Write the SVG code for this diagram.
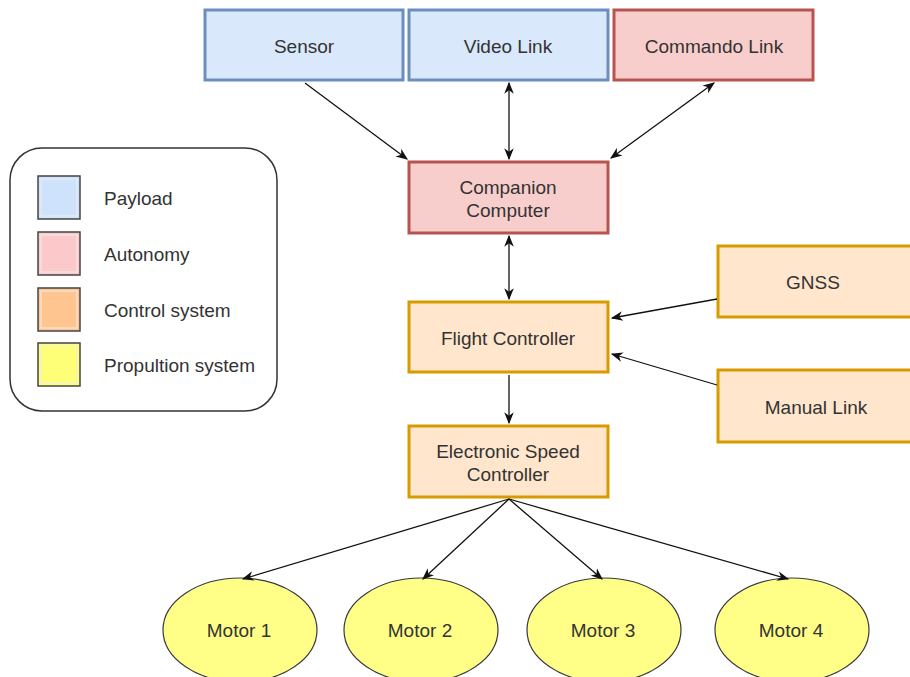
<svg xmlns="http://www.w3.org/2000/svg" width="910" height="677" viewBox="0 0 910 677">
<style>
text{font-family:"Liberation Sans",Arial,sans-serif;font-size:19px;fill:#333;text-anchor:middle;dominant-baseline:central}
.blue{fill:#dae8fc;stroke:#6c8ebf;stroke-width:3}
.red{fill:#f8cecc;stroke:#b85450;stroke-width:3}
.orange{fill:#ffe6cc;stroke:#d79b00;stroke-width:3}
.motor{fill:#ffff88;stroke:#36393d;stroke-width:1.2}
.lg{stroke:#444;stroke-width:1.5}
.lgi{fill:none;stroke:#eee;stroke-width:1}
.ltxt{text-anchor:start}
.conn line{stroke:#111;stroke-width:1.3}
</style>
<defs>
<marker id="ah" viewBox="0 0 10 10" refX="9" refY="5" markerWidth="12" markerHeight="12" markerUnits="userSpaceOnUse" orient="auto-start-reverse">
<path d="M0,1 L10,5 L0,9 L3,5 Z" fill="#111"/>
</marker>
</defs>
<rect width="910" height="677" fill="#fff"/>
<g id="legend">
<rect x="10" y="148" width="267" height="263" rx="32" fill="#fff" stroke="#333" stroke-width="1.5"/>
<rect class="lg" x="38" y="176" width="42" height="43" fill="#cfe2fb"/><rect class="lgi" x="41" y="179" width="36" height="37"/>
<rect class="lg" x="38" y="232" width="42" height="43" fill="#fbc9ca"/><rect class="lgi" x="41" y="235" width="36" height="37"/>
<rect class="lg" x="38" y="288" width="42" height="43" fill="#ffc590"/><rect class="lgi" x="41" y="291" width="36" height="37"/>
<rect class="lg" x="38" y="343" width="42" height="43" fill="#ffff77"/><rect class="lgi" x="41" y="346" width="36" height="37"/>
<text class="ltxt" x="104" y="198">Payload</text>
<text class="ltxt" x="104" y="254">Autonomy</text>
<text class="ltxt" x="104" y="310">Control system</text>
<text class="ltxt" x="104" y="365">Propultion system</text>
</g>
<g id="sensor"><rect class="blue" x="205" y="10" width="198" height="70"/><text x="304" y="46">Sensor</text></g>
<g id="video-link"><rect class="blue" x="409" y="10" width="199" height="70"/><text x="508" y="46">Video Link</text></g>
<g id="commando-link"><rect class="red" x="614" y="10" width="199" height="70"/><text x="714" y="46">Commando Link</text></g>
<g id="companion"><rect class="red" x="409" y="162" width="199" height="71"/><text x="508" y="187">Companion</text><text x="508" y="210">Computer</text></g>
<g id="flight-controller"><rect class="orange" x="409" y="302" width="199" height="70"/><text x="508" y="338">Flight Controller</text></g>
<g id="esc"><rect class="orange" x="409" y="426" width="199" height="71"/><text x="508" y="451">Electronic Speed</text><text x="508" y="474">Controller</text></g>
<g id="gnss"><rect class="orange" x="718" y="246" width="196" height="71"/><text x="813" y="282">GNSS</text></g>
<g id="manual-link"><rect class="orange" x="718" y="370" width="196" height="72"/><text x="816" y="407">Manual Link</text></g>
<g id="motor1"><ellipse class="motor" cx="240" cy="630" rx="77" ry="52"/><text x="239" y="630">Motor 1</text></g>
<g id="motor2"><ellipse class="motor" cx="421" cy="630" rx="77" ry="52"/><text x="420" y="630">Motor 2</text></g>
<g id="motor3"><ellipse class="motor" cx="604" cy="630" rx="77" ry="52"/><text x="603" y="630">Motor 3</text></g>
<g id="motor4"><ellipse class="motor" cx="792" cy="630" rx="77" ry="52"/><text x="791" y="630">Motor 4</text></g>
<g id="connectors" class="conn">
<line x1="305" y1="83" x2="407" y2="159" marker-end="url(#ah)"/>
<line x1="509" y1="83" x2="509" y2="159" marker-start="url(#ah)" marker-end="url(#ah)"/>
<line x1="714" y1="83" x2="611" y2="158" marker-start="url(#ah)" marker-end="url(#ah)"/>
<line x1="509" y1="236" x2="509" y2="299" marker-start="url(#ah)" marker-end="url(#ah)"/>
<line x1="717" y1="299" x2="612" y2="318" marker-end="url(#ah)"/>
<line x1="717" y1="385" x2="612" y2="354" marker-end="url(#ah)"/>
<line x1="509" y1="375" x2="509" y2="423" marker-end="url(#ah)"/>
<line x1="509" y1="499" x2="243" y2="579" marker-end="url(#ah)"/>
<line x1="509" y1="499" x2="423" y2="579" marker-end="url(#ah)"/>
<line x1="509" y1="499" x2="602" y2="579" marker-end="url(#ah)"/>
<line x1="509" y1="499" x2="788" y2="579" marker-end="url(#ah)"/>
</g>
</svg>
